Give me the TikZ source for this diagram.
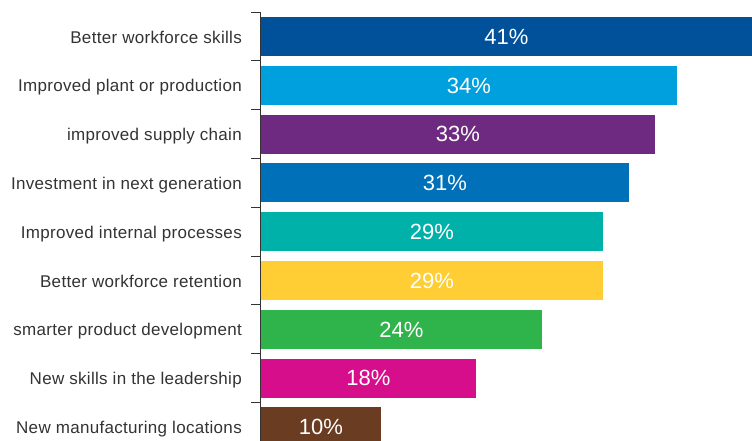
\documentclass[tikz,border=0pt]{standalone}
\usepackage{fontspec}
\setmainfont{Liberation Sans}
\newfontfamily\labfont[LetterSpace=1.8]{Liberation Sans}
\definecolor{c1}{HTML}{00519A}
\definecolor{c2}{HTML}{00A0DF}
\definecolor{c3}{HTML}{6E2A80}
\definecolor{c4}{HTML}{0070B9}
\definecolor{c5}{HTML}{00B1A9}
\definecolor{c6}{HTML}{FFCD34}
\definecolor{c7}{HTML}{2FB34B}
\definecolor{c8}{HTML}{D70E8C}
\definecolor{c9}{HTML}{6A3D22}
\definecolor{labgray}{HTML}{333333}
\definecolor{axgray}{HTML}{333333}
\begin{document}
\begin{tikzpicture}[x=1pt,y=-1pt,
  bar/.style={anchor=west, minimum height=39pt, inner sep=0pt, outer sep=0pt,
    text=white, text height=15.7pt, text depth=0pt, font=\fontsize{22}{24}\selectfont},
  lab/.style={anchor=east, inner sep=0pt, text=labgray, text height=12.2pt,
    text depth=0pt, font=\labfont\fontsize{17}{20}\selectfont},
  axisline/.style={draw=axgray, line width=1pt}]
\useasboundingbox (0,0) rectangle (752,441);
\clip (0,0) rectangle (752,441);
\foreach \i/\w/\c/\p/\t in {
  0/491/c1/41/Better workforce skills,
  1/416/c2/34/Improved plant or production,
  2/394/c3/33/improved supply chain,
  3/368/c4/31/Investment in next generation,
  4/342/c5/29/Improved internal processes,
  5/342/c6/29/Better workforce retention,
  6/281/c7/24/smarter product development,
  7/215/c8/18/New skills in the leadership,
  8/120/c9/10/New manufacturing locations}{
  \node[bar, fill=\c, minimum width=\w pt] (b\i) at (261, 36.5+48.8*\i) {\p\%};
  \node[lab] (l\i) at (242, 37+48.8*\i) {\t};
  \draw[axisline] (251, 12.1+48.8*\i) -- (260.5, 12.1+48.8*\i);
}
\coordinate (axtop) at (260.5, 12.1);
\coordinate (axbot) at (260.5, 441);
\draw[axisline] (axtop) -- (axbot);
\end{tikzpicture}
\end{document}
